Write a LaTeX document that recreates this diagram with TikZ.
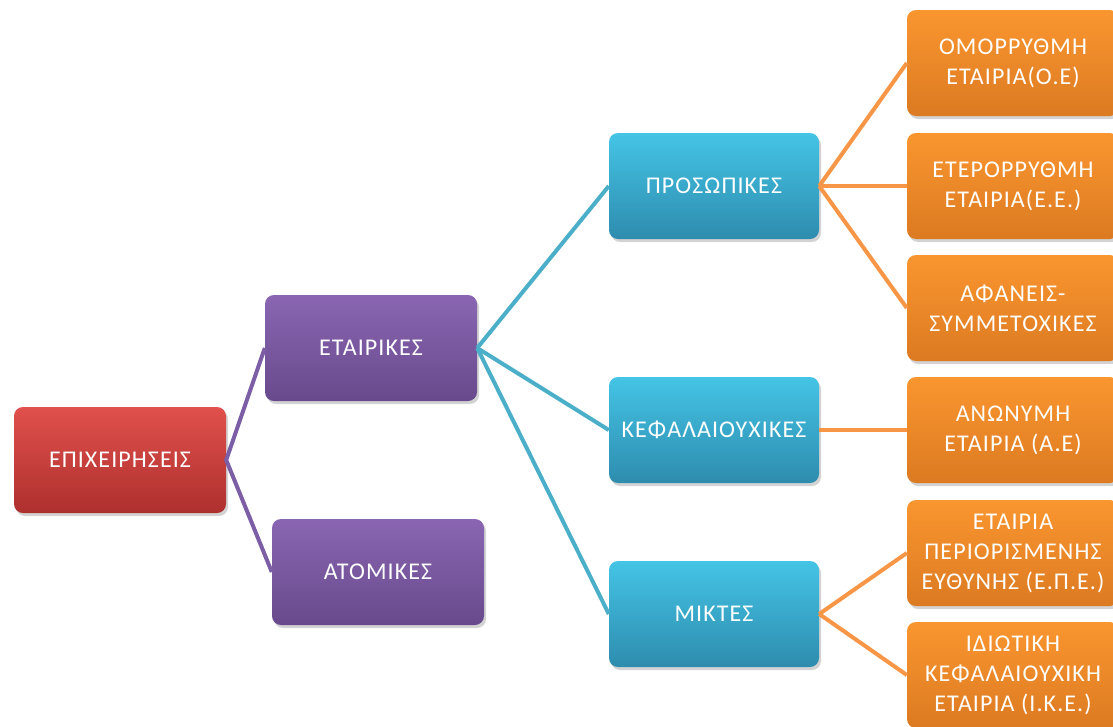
\documentclass[tikz,border=0pt]{standalone}
\usepackage{fontspec}
\setmainfont{Carlito}[LetterSpace=4.5]
\usetikzlibrary{shadows}
\definecolor{redtop}{HTML}{E0504C}
\definecolor{redbot}{HTML}{AE302E}
\definecolor{purpletop}{HTML}{8A66B2}
\definecolor{purplebot}{HTML}{684A8C}
\definecolor{aquatop}{HTML}{44C4E6}
\definecolor{aquabot}{HTML}{2E8CAE}
\definecolor{orangetop}{HTML}{FA962F}
\definecolor{orangebot}{HTML}{DC7A22}
\definecolor{linkpurple}{HTML}{7B5EA6}
\definecolor{linkaqua}{HTML}{4BAFC9}
\definecolor{linkorange}{HTML}{F79646}

\begin{document}
\begin{tikzpicture}[
        x=1pt, y=-1pt,
        box/.style={rounded corners=9pt, minimum width=212pt, minimum height=106pt, inner sep=2pt,
            align=center, text=white, font=\fontsize{24}{30}\selectfont,
            drop shadow={shadow xshift=2pt, shadow yshift=-3pt, opacity=0.35}},
        redbox/.style={box, top color=redtop, bottom color=redbot},
        purplebox/.style={box, top color=purpletop, bottom color=purplebot},
        aquabox/.style={box, top color=aquatop, bottom color=aquabot},
        orangebox/.style={box, top color=orangetop, bottom color=orangebot},
        purplelink/.style={draw=linkpurple, line width=4pt},
        aqualink/.style={draw=linkaqua, line width=4pt},
        orangelink/.style={draw=linkorange, line width=4pt}
    ]
    \useasboundingbox (0,0) rectangle (1113,726);
    \clip (0,0) rectangle (1113,726);

    % === Level 1 ===
    \node[redbox] (epix) at (120, 460) {ΕΠΙΧΕΙΡΗΣΕΙΣ};

    % === Level 2 ===
    \node[purplebox] (etair) at (371, 348) {ΕΤΑΙΡΙΚΕΣ};
    \node[purplebox] (atom) at (378, 572) {ΑΤΟΜΙΚΕΣ};

    % === Level 3 ===
    \node[aquabox, minimum width=210pt] (pros) at (714, 186) {ΠΡΟΣΩΠΙΚΕΣ};
    \node[aquabox, minimum width=210pt] (kef) at (714, 430) {ΚΕΦΑΛΑΙΟΥΧΙΚΕΣ};
    \node[aquabox, minimum width=210pt] (mikt) at (714, 614) {ΜΙΚΤΕΣ};

    % === Level 4 ===
    \node[orangebox] (oe) at (1013, 63) {ΟΜΟΡΡΥΘΜΗ\\ΕΤΑΙΡΙΑ(Ο.Ε)};
    \node[orangebox] (ee) at (1013, 186) {ΕΤΕΡΟΡΡΥΘΜΗ\\ΕΤΑΙΡΙΑ(Ε.Ε.)};
    \node[orangebox] (afan) at (1013, 308) {ΑΦΑΝΕΙΣ-\\ΣΥΜΜΕΤΟΧΙΚΕΣ};
    \node[orangebox] (ae) at (1013, 430) {ΑΝΩΝΥΜΗ\\ΕΤΑΙΡΙΑ (Α.Ε)};
    \node[orangebox] (epe) at (1013, 553) {ΕΤΑΙΡΙΑ\\ΠΕΡΙΟΡΙΣΜΕΝΗΣ\\ΕΥΘΥΝΗΣ (Ε.Π.Ε.)};
    \node[orangebox] (ike) at (1013, 675) {ΙΔΙΩΤΙΚΗ\\ΚΕΦΑΛΑΙΟΥΧΙΚΗ\\ΕΤΑΙΡΙΑ (Ι.Κ.Ε.)};

    % Connectors
    \draw[purplelink] (etair.west) -- (epix.east) -- (atom.west);
    \draw[aqualink] (etair.east) -- (pros.west);
    \draw[aqualink] (etair.east) -- (kef.west);
    \draw[aqualink] (etair.east) -- (mikt.west);
    \draw[orangelink] (pros.east) -- (oe.west);
    \draw[orangelink] (pros.east) -- (ee.west);
    \draw[orangelink] (pros.east) -- (afan.west);
    \draw[orangelink] (kef.east) -- (ae.west);
    \draw[orangelink] (mikt.east) -- (epe.west);
    \draw[orangelink] (mikt.east) -- (ike.west);

\end{tikzpicture}
\end{document}
